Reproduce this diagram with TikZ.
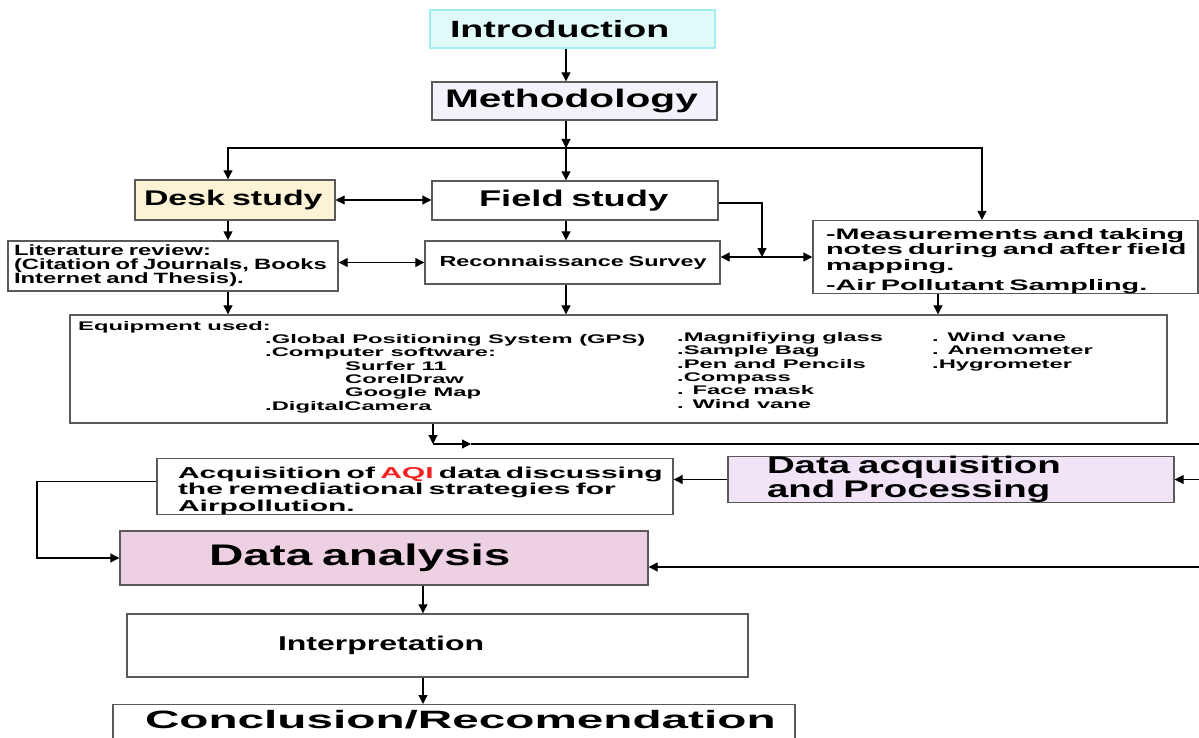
\documentclass[tikz,border=0pt]{standalone}
\usepackage{fontspec}
\setmainfont{Liberation Sans}[FakeStretch=1.6]
\newfontfamily\widefont{Liberation Sans}[FakeStretch=1.9]
\usetikzlibrary{arrows.meta}
\newcommand{\setfs}[2]{\fontsize{#1}{#2}\selectfont}
\definecolor{introfill}{HTML}{E0FAFA}
\definecolor{introline}{HTML}{A0EEF0}
\definecolor{methfill}{HTML}{F5F1FA}
\definecolor{deskfill}{HTML}{FCF2D6}
\definecolor{dacqfill}{HTML}{F1E4F6}
\definecolor{anafill}{HTML}{EDD0E1}
\definecolor{boxline}{HTML}{5A5A5A}
\definecolor{aqired}{HTML}{F52222}
\begin{document}
\begin{tikzpicture}[x=1pt,y=-1pt,
        box/.style={draw=boxline, line width=1.4pt, align=left, inner ysep=0pt},
        arr/.style={-{Triangle[length=9pt,width=9pt]}, line width=1.2pt},
        arrtwo/.style={{Triangle[length=9pt,width=9pt]}-{Triangle[length=9pt,width=9pt]}, line width=1.2pt},
        eqtext/.style={anchor=north west, inner sep=0pt, align=left, font={\widefont\bfseries\setfs{12.5}{13.4}}}]
        \useasboundingbox (0,0) rectangle (1199,738);
        %% top of the chart
        \node[box, draw=introline, fill=introfill, minimum height=38pt, text width=245pt, inner xsep=20pt, font={\bfseries\setfs{23.5}{26}}] (intro) at (572.5,29) {Introduction};
        \node[box, fill=methfill, minimum height=38pt, text width=259pt, inner xsep=13pt, font={\bfseries\setfs{25.4}{27}}] (meth) at (574.5,101) {Methodology};
        %% desk and field study
        \node[box, fill=deskfill, minimum height=40pt, text width=182pt, inner xsep=9pt, font={\bfseries\setfs{21.2}{23}}] (desk) at (235,200) {Desk study};
        \node[box, minimum height=39pt, text width=192pt, inner xsep=47pt, font={\bfseries\setfs{22.7}{24}}] (field) at (575,200.5) {Field study};
        \node[box, minimum height=50pt, text width=318pt, inner xsep=6pt, font={\bfseries\setfs{14.9}{14}}] (lit) at (173,266) {Literature review:\\(Citation of Journals, Books\\Internet and Thesis).};
        \node[box, minimum height=43pt, text width=274pt, inner xsep=10.5pt, font={\bfseries\setfs{14.6}{16}}] (recon) at (572.5,262.5) {\hspace*{4pt}Reconnaissance Survey};
        \node[box, minimum height=70pt, text width=367pt, inner xsep=9pt, font={\widefont\bfseries\setfs{15.2}{14}}] (meas) at (1005.5,257) {\rule{0pt}{19pt}\hspace*{4pt}-Measurements and taking\\\hspace*{4pt}notes during and after field\\\hspace*{4pt}mapping.\\[5pt]\hspace*{4pt}-Air Pollutant Sampling.};
        %% equipment
        \node[box, minimum width=1097pt, minimum height=108pt] (equip) at (618.5,369) {};
        \node[eqtext] (eqhead) at (78,321) {Equipment used:};
        \node[eqtext] (eqa) at (265,334) {.Global Positioning System (GPS)\\.Computer software:\\\hspace*{80pt}Surfer 11\\\hspace*{80pt}CorelDraw\\\hspace*{80pt}Google Map\\.DigitalCamera};
        \node[eqtext] (eqb) at (677,332) {.Magnifiying glass\\.Sample Bag\\.Pen and Pencils\\.Compass\\. Face mask\\. Wind vane};
        \node[eqtext] (eqc) at (932,332) {. Wind vane\\. Anemometer\\.Hygrometer};
        %% data
        \node[box, minimum height=55pt, text width=496pt, inner xsep=10pt, font={\widefont\bfseries\setfs{15.8}{16.5}}] (acq) at (415,486.5) {\rule{0pt}{20pt}\hspace*{11pt}Acquisition of {\color{aqired}AQI} data discussing\\\hspace*{11pt}the remediational strategies for\\\hspace*{11pt}Airpollution.};
        \node[box, fill=dacqfill, minimum height=45pt, text width=368pt, inner xsep=39pt, font={\bfseries\setfs{24}{22}}] (dacq) at (951,479.5) {Data acquisition\\and Processing};
        \node[box, fill=anafill, minimum height=54pt, text width=350pt, inner xsep=89pt, font={\bfseries\setfs{29.8}{31}}] (analysis) at (384,558) {Data analysis};
        \node[box, minimum height=63pt, text width=319pt, inner xsep=151pt, font={\bfseries\setfs{20}{22}}] (interp) at (437.5,645.5) {Interpretation};
        \node[box, anchor=north, inner ysep=6pt, text depth=14pt, text width=662pt, inner xsep=10pt, font={\widefont\bfseries\setfs{25.1}{26}}] (concl) at (454,704) {\hspace*{22pt}Conclusion/Recomendation};
        %% connectors
        \coordinate (split) at (566,148);
        \coordinate (rsplit) at (982,148);
        \coordinate (lcol) at (228,230);
        \coordinate (rcol) at (938,300);
        \coordinate (fjoin) at (762,257);
        \draw[arr] (intro.south -| split) -- (meth.north -| split);
        \draw[arr] (meth.south -| split) -- (split);
        \draw[arr] (split) -| (lcol |- desk.north);
        \draw[arr] (split) -- (split |- field.north);
        \draw[arr] (split) -- (rsplit) -- (rsplit |- meas.north);
        \draw[arrtwo] (desk.east) -- (field.west |- desk.east);
        \draw[arr] (lcol |- desk.south) -- (lcol |- lit.north);
        \draw[arr] (split |- field.south) -- (split |- recon.north);
        \draw[arrtwo] (lit.east |- recon.west) -- (recon.west);
        \draw[arr] ([yshift=-2.5pt]field.east) -| (fjoin);
        \draw[arrtwo] (recon.east |- meas.west) -- (meas.west);
        \draw[arr] (lcol |- lit.south) -- (lcol |- equip.north);
        \draw[arr] (split |- recon.south) -- (split |- equip.north);
        \draw[arr] (rcol |- meas.south) -- (rcol |- equip.north);
        %% back loop on the right
        \coordinate (ecorner) at (433,444);
        \coordinate (etip) at (471,444);
        \coordinate (etop) at (1204,444);
        \coordinate (ebot) at (1204,567);
        \coordinate (lloop) at (37,520);
        \coordinate (ccol) at (423,600);
        \draw[arr] (ecorner |- equip.south) -- (ecorner);
        \draw[arr] (ecorner) -- (etip);
        \draw[line width=1.2pt] (etip) -- (etop) -- (ebot);
        \draw[arr] (etop |- dacq.east) -- (dacq.east);
        \draw[arr] (ebot) -- (ebot -| analysis.east);
        \draw[arr] (dacq.west) -- (dacq.west -| acq.east);
        \draw[arr] ([yshift=5pt]acq.west) -| (lloop |- analysis.west) -- (analysis.west);
        \draw[arr] (ccol |- analysis.south) -- (ccol |- interp.north);
        \draw[arr] (ccol |- interp.south) -- (ccol |- concl.north);
    \end{tikzpicture}
\end{document}
